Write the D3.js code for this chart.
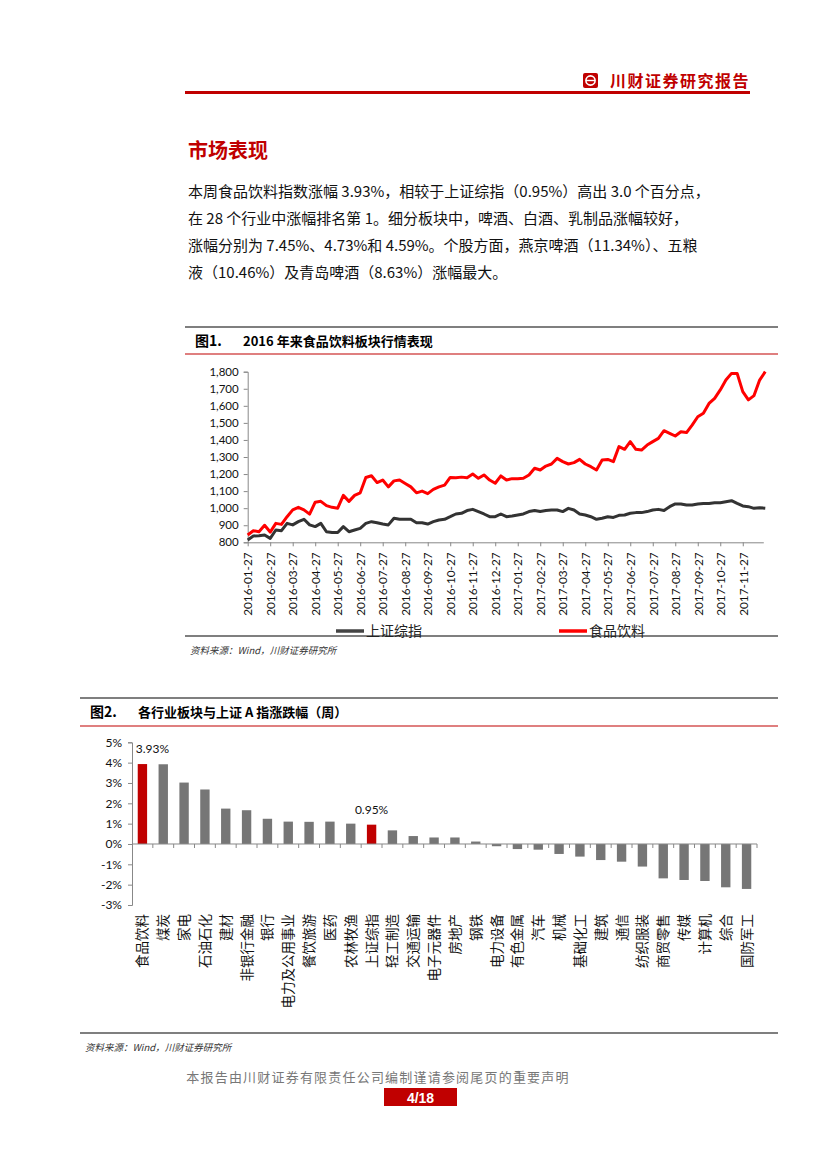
<!DOCTYPE html>
<html>
<head>
<meta charset="utf-8">
<script src="https://cdn.jsdelivr.net/npm/d3@7"></script>
<style>
  body { margin: 0; background: #fff; }
  svg { display: block; }
</style>
</head>
<body>
<div id="page"></div>
<script>
const W = 827, H = 1169;
const CJK = '"Noto Sans CJK SC", "Noto Sans", sans-serif';
const NUM = 'Lato, "Liberation Sans", sans-serif';
const DARKRED = '#c00000';

// chart 1: index level, one point per quarter month from 2016-01-27
const dateLabels = ['2016-01-27', '2016-02-27', '2016-03-27', '2016-04-27', '2016-05-27', '2016-06-27',
  '2016-07-27', '2016-08-27', '2016-09-27', '2016-10-27', '2016-11-27', '2016-12-27',
  '2017-01-27', '2017-02-27', '2017-03-27', '2017-04-27', '2017-05-27', '2017-06-27',
  '2017-07-27', '2017-08-27', '2017-09-27', '2017-10-27', '2017-11-27'];

const foodValues = [843, 868, 862, 900, 860, 911, 905, 950, 990, 1005,
  990, 965, 1035, 1040, 1015, 1005, 1000, 1075, 1040, 1075,
  1090, 1180, 1190, 1150, 1165, 1125, 1160, 1165, 1145, 1125,
  1090, 1100, 1085, 1110, 1125, 1135, 1180, 1178, 1182, 1178,
  1200, 1175, 1195, 1165, 1146, 1189, 1165, 1173, 1173, 1175,
  1195, 1234, 1224, 1247, 1259, 1292, 1273, 1259, 1267, 1286,
  1259, 1243, 1224, 1282, 1286, 1273, 1361, 1345, 1390, 1345,
  1341, 1370, 1390, 1409, 1454, 1439, 1423, 1448, 1443, 1487,
  1536, 1556, 1614, 1644, 1693, 1751, 1790, 1790, 1683, 1635,
  1660, 1751, 1800];

const shValues = [814, 837, 839, 843, 823, 872, 868, 911, 902, 921,
  935, 902, 892, 911, 862, 857, 857, 892, 862, 872,
  882, 911, 921, 915, 907, 902, 941, 935, 935, 935,
  915, 915, 907, 921, 931, 935, 950, 966, 970, 986,
  993, 980, 966, 950, 950, 966, 950, 954, 960, 966,
  980, 986, 980, 986, 989, 989, 980, 999, 989, 966,
  960, 950, 935, 941, 950, 946, 958, 960, 970, 974,
  974, 980, 989, 993, 986, 1009, 1025, 1025, 1019, 1019,
  1025, 1028, 1028, 1032, 1032, 1038, 1044, 1028, 1013, 1009,
  999, 1003, 1000];

const yTicks1 = [800, 900, 1000, 1100, 1200, 1300, 1400, 1500, 1600, 1700, 1800];
const seriesNames = ['上证综指', '食品饮料'];

// chart 2: weekly change (%)
const industries = ['食品饮料', '煤炭', '家电', '石油石化', '建材', '非银行金融', '银行', '电力及公用事业',
  '餐饮旅游', '医药', '农林牧渔', '上证综指', '轻工制造', '交通运输', '电子元器件', '房地产', '钢铁',
  '电力设备', '有色金属', '汽车', '机械', '基础化工', '建筑', '通信', '纺织服装', '商贸零售', '传媒',
  '计算机', '综合', '国防军工'];
const changes = [3.93, 3.92, 3.02, 2.68, 1.74, 1.66, 1.24, 1.1, 1.09, 1.1, 1.0, 0.95, 0.67, 0.39, 0.32,
  0.32, 0.12, -0.11, -0.25, -0.28, -0.49, -0.62, -0.79, -0.87, -1.11, -1.69, -1.77, -1.82, -2.13, -2.21];
const highlighted = ['食品饮料', '上证综指'];
const yTicks2 = [-3, -2, -1, 0, 1, 2, 3, 4, 5];

const paragraph = [
  '本周食品饮料指数涨幅 3.93%，相较于上证综指（0.95%）高出 3.0 个百分点，',
  '在 28 个行业中涨幅排名第 1。细分板块中，啤酒、白酒、乳制品涨幅较好，',
  '涨幅分别为 7.45%、4.73%和 4.59%。个股方面，燕京啤酒（11.34%）、五粮',
  '液（10.46%）及青岛啤酒（8.63%）涨幅最大。'
];

const svg = d3.select('#page').append('svg')
  .attr('width', W)
  .attr('height', H);

// ---- page header
svg.append('rect').attr('x', 583).attr('y', 73).attr('width', 15).attr('height', 15)
  .attr('rx', 2).attr('fill', DARKRED);
svg.append('circle').attr('cx', 590.5).attr('cy', 80.5).attr('r', 4.6)
  .attr('fill', 'none').attr('stroke', '#fff').attr('stroke-width', 1.6);
svg.append('line').attr('x1', 586).attr('x2', 595).attr('y1', 80.5).attr('y2', 80.5)
  .attr('stroke', '#fff').attr('stroke-width', 1.4);
svg.append('text').attr('x', 750).attr('y', 87).attr('text-anchor', 'end')
  .attr('font-family', CJK).attr('font-size', 16).attr('font-weight', 'bold')
  .attr('fill', DARKRED).attr('letter-spacing', 1.5).text('川财证券研究报告');
svg.append('rect').attr('x', 185).attr('y', 91).attr('width', 565).attr('height', 3).attr('fill', DARKRED);

svg.append('text').attr('x', 188).attr('y', 158)
  .attr('font-family', CJK).attr('font-size', 20).attr('font-weight', 'bold')
  .attr('fill', DARKRED).text('市场表现');

svg.append('g').selectAll('text').data(paragraph).join('text')
  .attr('x', 188)
  .attr('y', (d, i) => 197 + i * 27)
  .attr('font-family', CJK).attr('font-size', 15).attr('fill', '#111')
  .text(d => d);

// ---- chart frames
function frame(x0, x1, top, redY, bottom, num, title, titleX, sourceY) {
  svg.append('line').attr('x1', x0).attr('x2', x1).attr('y1', top).attr('y2', top)
    .attr('stroke', '#555').attr('stroke-width', 1.5);
  svg.append('line').attr('x1', x0).attr('x2', x1).attr('y1', redY).attr('y2', redY)
    .attr('stroke', DARKRED).attr('stroke-width', 1.2);
  svg.append('line').attr('x1', x0).attr('x2', x1).attr('y1', bottom).attr('y2', bottom)
    .attr('stroke', '#555').attr('stroke-width', 1.5);
  svg.append('text').attr('x', x0 + 10).attr('y', top + 19)
    .attr('font-family', CJK).attr('font-size', 14).attr('font-weight', 'bold').text(num);
  svg.append('text').attr('x', titleX).attr('y', top + 19)
    .attr('font-family', CJK).attr('font-size', 13).attr('font-weight', 'bold').text(title);
  svg.append('text').attr('x', x0 + 5).attr('y', sourceY)
    .attr('font-family', CJK).attr('font-size', 9.5).attr('font-style', 'italic')
    .attr('fill', '#333').text('资料来源：Wind，川财证券研究所');
}

// ---- chart 1
frame(185, 778, 327, 354, 636, '图1.', '2016 年来食品饮料板块行情表现', 243, 654);

const x1 = d3.scaleLinear().domain([0, 91.65]).range([247.7, 763.3]);
const y1 = d3.scaleLinear().domain([800, 1800]).range([542.3, 371.7]);

const g1 = svg.append('g');

g1.append('g')
  .attr('transform', `translate(${x1.range()[0]},0)`)
  .call(d3.axisLeft(y1).tickValues(yTicks1).tickSize(4).tickPadding(5).tickFormat(d3.format(',')))
  .call(g => g.selectAll('.domain, line').attr('stroke', '#888'))
  .call(g => g.selectAll('text').attr('font-family', NUM).attr('font-size', 11.5).attr('fill', '#111'));

g1.append('g')
  .attr('transform', `translate(0,${y1.range()[0]})`)
  .call(d3.axisBottom(x1).tickValues(dateLabels.map((d, i) => i * 4)).tickSize(4).tickSizeOuter(0)
    .tickFormat((d, i) => dateLabels[i]))
  .call(g => g.selectAll('.domain, line').attr('stroke', '#888'))
  .call(g => g.selectAll('text')
    .attr('font-family', NUM).attr('font-size', 11.8).attr('fill', '#111')
    .attr('text-anchor', 'end')
    .attr('transform', 'rotate(-90)')
    .attr('x', -10).attr('y', 0).attr('dy', '0.36em'));

const line1 = d3.line().x((d, i) => x1(i)).y(d => y1(d));

g1.append('path').datum(shValues)
  .attr('d', line1).attr('fill', 'none')
  .attr('stroke', '#333').attr('stroke-width', 3).attr('stroke-linejoin', 'round');
g1.append('path').datum(foodValues)
  .attr('d', line1).attr('fill', 'none')
  .attr('stroke', '#ff0000').attr('stroke-width', 3).attr('stroke-linejoin', 'round');

const legend = g1.selectAll('.lg').data(seriesNames).join('g')
  .attr('transform', (d, i) => `translate(${i === 0 ? 336 : 559},631)`);
legend.append('line').attr('x1', 0).attr('x2', 28).attr('y1', 0).attr('y2', 0)
  .attr('stroke', (d, i) => i === 0 ? '#444' : '#ff0000').attr('stroke-width', 3.5);
legend.append('text').attr('x', 30).attr('y', 5)
  .attr('font-family', CJK).attr('font-size', 14).attr('fill', '#222').text(d => d);

// ---- chart 2
frame(80, 778, 698, 726, 1033, '图2.', '各行业板块与上证 A 指涨跌幅（周）', 138, 1051);

const x2 = d3.scaleBand().domain(industries).range([132, 757]).paddingInner(0.55).paddingOuter(0.275);
const y2 = d3.scaleLinear().domain([-3, 5]).range([905, 742.3]);

const g2 = svg.append('g');

g2.append('g')
  .attr('transform', `translate(${x2.range()[0]},0)`)
  .call(d3.axisLeft(y2).tickValues(yTicks2).tickSize(4).tickPadding(6).tickFormat(d => d + '%'))
  .call(g => g.selectAll('.domain, line').attr('stroke', '#888'))
  .call(g => g.selectAll('text').attr('font-family', NUM).attr('font-size', 12).attr('fill', '#111'));

g2.selectAll('rect.bar').data(industries).join('rect')
  .attr('class', 'bar')
  .attr('x', d => x2(d))
  .attr('width', x2.bandwidth())
  .attr('y', (d, i) => y2(Math.max(0, changes[i])))
  .attr('height', (d, i) => Math.abs(y2(changes[i]) - y2(0)))
  .attr('fill', d => highlighted.includes(d) ? DARKRED : '#767676');

// category axis, ticks on band boundaries
const step = x2.step();
g2.append('line')
  .attr('x1', x2.range()[0]).attr('x2', x2.range()[1])
  .attr('y1', y2(0)).attr('y2', y2(0)).attr('stroke', '#888');
g2.selectAll('line.tk').data(industries).join('line')
  .attr('class', 'tk')
  .attr('x1', d => x2(d) + x2.bandwidth() / 2 + step / 2)
  .attr('x2', d => x2(d) + x2.bandwidth() / 2 + step / 2)
  .attr('y1', y2(0)).attr('y2', y2(0) + 4).attr('stroke', '#888');

g2.selectAll('text.cat').data(industries).join('text')
  .attr('class', 'cat')
  .attr('transform', d => `translate(${x2(d) + x2.bandwidth() / 2 + 5},914) rotate(-90)`)
  .attr('text-anchor', 'end')
  .attr('font-family', CJK).attr('font-size', 13.5).attr('fill', '#111')
  .text(d => d);

g2.selectAll('text.val').data(highlighted).join('text')
  .attr('class', 'val')
  .attr('x', (d, i) => x2(d) + x2.bandwidth() / 2 + (i === 0 ? 10 : 0))
  .attr('y', d => y2(changes[industries.indexOf(d)]) - 11)
  .attr('text-anchor', 'middle')
  .attr('font-family', NUM).attr('font-size', 12).attr('fill', '#111')
  .text(d => changes[industries.indexOf(d)].toFixed(2) + '%');

// ---- footer
svg.append('text').attr('x', 378).attr('y', 1082).attr('text-anchor', 'middle')
  .attr('font-family', CJK).attr('font-size', 13).attr('fill', '#777')
  .attr('letter-spacing', 1.2)
  .text('本报告由川财证券有限责任公司编制谨请参阅尾页的重要声明');
svg.append('rect').attr('x', 384).attr('y', 1088).attr('width', 73).attr('height', 18).attr('fill', DARKRED);
svg.append('text').attr('x', 420.5).attr('y', 1102.5).attr('text-anchor', 'middle')
  .attr('font-family', '"Liberation Sans", Arial, sans-serif').attr('font-size', 14)
  .attr('font-weight', 'bold').attr('fill', '#fff').text('4/18');
</script>
</body>
</html>
